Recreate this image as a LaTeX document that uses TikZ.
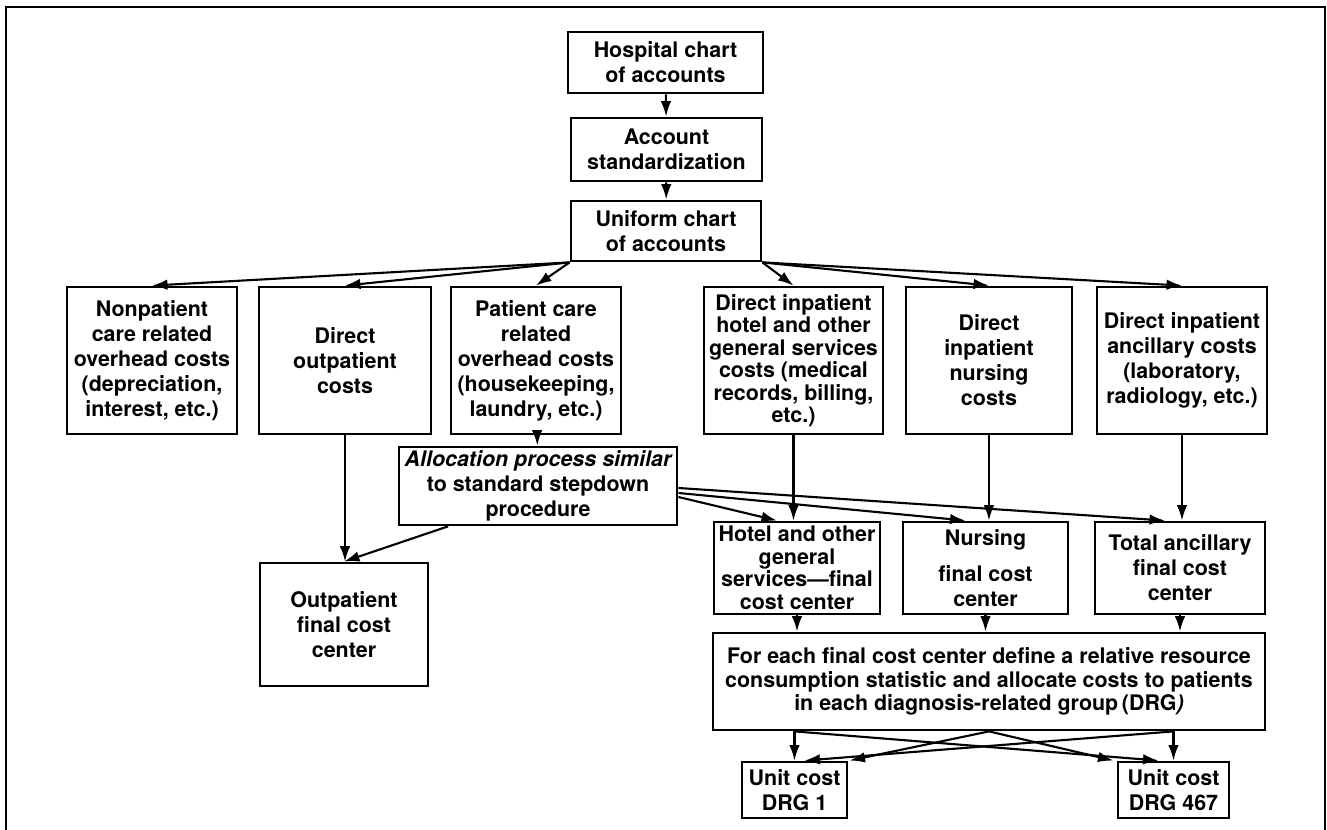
\documentclass[tikz,border=0pt]{standalone}
\usepackage{fontspec}
\setmainfont{TeX Gyre Heros}
\usetikzlibrary{arrows.meta}

\begin{document}
\begin{tikzpicture}[x=1mm,y=-1mm,
  box/.style={draw,line width=0.8pt,inner sep=0pt,align=center,font=\fontsize{6.1}{7.1}\selectfont\bfseries},
  tight/.style={font=\fontsize{6.1}{6.4}\selectfont\bfseries},
  arr/.style={line width=0.6pt,-{Latex[length=4.4pt,width=3pt]}}]
\useasboundingbox (0,0) rectangle (132.7,83);
\draw[line width=0.6pt] (0.6,83) -- (0.6,0.7) -- (132.5,0.7) -- (132.5,83);
% top chain
\node[box,minimum width=19.5mm,minimum height=6.1mm] (hosp) at (66.55,6.25) {Hospital chart\\of accounts};
\node[box,minimum width=19.1mm,minimum height=6.3mm] (acct) at (66.65,14.95) {Account\\standardization};
\node[box,minimum width=19mm,minimum height=6mm] (unif) at (66.6,23.1) {Uniform chart\\of accounts};
% cost groups
\node[box,minimum width=17mm,minimum height=14.7mm] (nonpat) at (15.2,36.05) {Nonpatient\\care related\\overhead costs\\(depreciation,\\interest, etc.)};
\node[box,minimum width=17.2mm,minimum height=14.7mm] (dout) at (34.5,36.05) {Direct\\outpatient\\costs};
\node[box,minimum width=17mm,minimum height=14.7mm] (pcare) at (53.6,36.05) {Patient care\\related\\overhead costs\\(housekeeping,\\laundry, etc.)};
\node[box,tight,minimum width=17.9mm,minimum height=14.7mm] (hotel) at (79.35,36.05) {Direct inpatient\\hotel and other\\general services\\costs (medical\\records, billing,\\etc.)};
\node[box,minimum width=16.6mm,minimum height=14.7mm] (nurs) at (98.9,36.05) {Direct\\inpatient\\nursing\\costs};
\node[box,minimum width=17mm,minimum height=14.7mm] (ancil) at (118.2,36.05) {Direct inpatient\\ancillary costs\\(laboratory,\\radiology, etc.)};
% allocation and final cost centers
\node[box,minimum width=27.8mm,minimum height=7.8mm] (alloc) at (53.8,48.6) {\itshape Allocation process similar\\to standard stepdown\\procedure};
\node[box,minimum width=16.8mm,minimum height=12.3mm] (outfin) at (34.4,62.45) {Outpatient\\final cost\\center};
\node[box,tight,minimum width=16.6mm,minimum height=9.2mm] (hotfin) at (79.7,56.8) {Hotel and other\\general\\services---final\\cost center};
\node[box,minimum width=16.5mm,minimum height=9.2mm] (nursfin) at (98.55,56.8) {Nursing\\[3pt]final cost\\center};
\node[box,minimum width=17mm,minimum height=9.2mm] (ancfin) at (118,56.8) {Total ancillary\\final cost\\center};
\node[box,font=\fontsize{6.1}{6.7}\selectfont\bfseries,minimum width=55.2mm,minimum height=9.7mm] (big) at (98.9,68.15) {For each final cost center define a relative resource\\consumption statistic and allocate costs to patients\\in each diagnosis-related group\,(DRG\textit{)}};
\node[box,minimum width=10.5mm,minimum height=5.6mm] (drg1) at (79.45,79) {Unit cost\\DRG 1};
\node[box,minimum width=11.1mm,minimum height=5.6mm] (drg467) at (117.35,79) {Unit cost\\DRG 467};
% connectors
\draw[arr] (hosp) -- (acct);
\draw[arr] (acct) -- (unif);
\draw[arr] (unif.south west) -- (nonpat.north);
\draw[arr] (unif.south west) -- (dout.north);
\draw[arr] (unif.south west) -- (pcare.north);
\draw[arr] (unif.south east) -- (hotel.north);
\draw[arr] (unif.south east) -- (nurs.north);
\draw[arr] (unif.south east) -- (ancil.north);
\draw[arr] (pcare) -- (alloc);
\draw[arr] (dout.south) -- (dout.south |- outfin.north);
\draw[arr] ([xshift=-9mm]alloc.south) -- (outfin.north);
\draw[arr] (hotel.south) -- (hotel.south |- hotfin.north);
\draw[arr] (nurs.south) -- (nurs.south |- nursfin.north);
\draw[arr] (ancil.south) -- (ancil.south |- ancfin.north);
\draw[arr] ([yshift=-0.2mm]alloc.east) -- ([xshift=-1.5mm]ancfin.north);
\draw[arr] ([yshift=-0.7mm]alloc.east) -- ([xshift=-2mm]nursfin.north);
\draw[arr] ([yshift=-1.1mm]alloc.east) -- ([xshift=-2mm]hotfin.north);
\foreach \n in {hotfin,nursfin,ancfin}
  \draw[arr] (\n.south) -- (\n.south |- big.north);
\coordinate (bl) at (big.south -| drg1.north);
\coordinate (br) at (big.south -| drg467.north);
\draw[arr] (bl) -- (drg1.north);
\draw[arr] (br) -- (drg467.north);
\draw[arr] (bl) -- ([xshift=-1.5mm]drg467.north);
\draw[arr] (br) -- ([xshift=1mm]drg1.north);
\draw[arr] (big.south) -- ([xshift=5.5mm]drg1.north);
\draw[arr] (big.south) -- ([xshift=-6mm]drg467.north);
\end{tikzpicture}
\end{document}
